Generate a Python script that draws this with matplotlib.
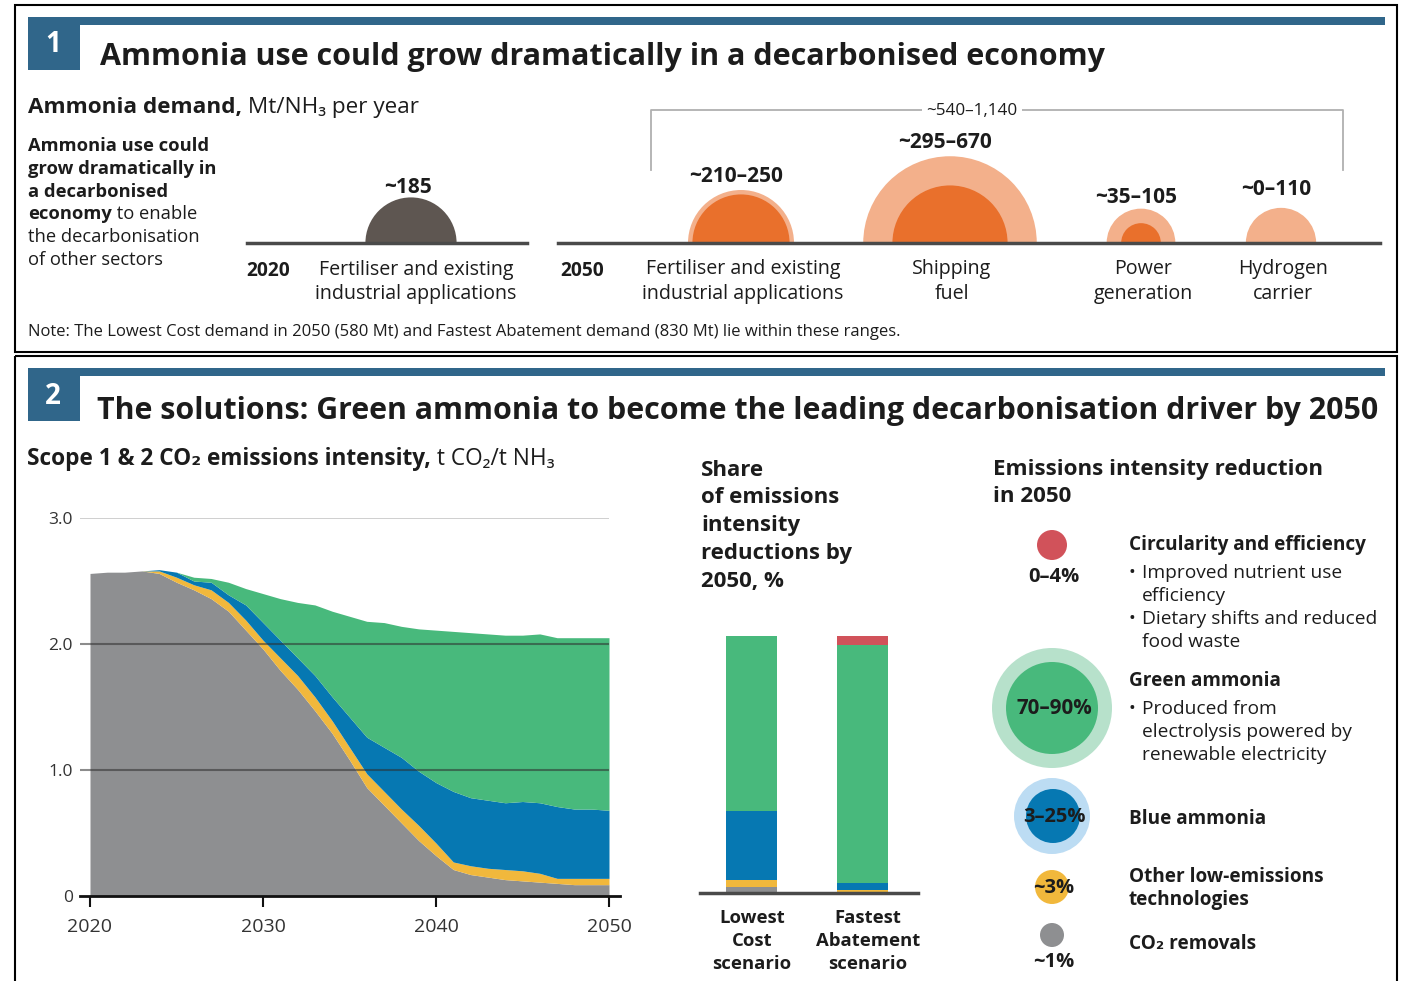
import matplotlib
matplotlib.use('Agg')
import matplotlib.pyplot as plt
from matplotlib.patches import Rectangle, Wedge, Circle
import numpy as np

plt.rcParams['font.family'] = ['Open Sans', 'DejaVu Sans']

# ---- panel 1: ammonia demand, Mt NH3 per year ----
demand_2020 = 185
label_2020 = '~185'
uses_2050 = ['Fertiliser and existing\nindustrial applications', 'Shipping\nfuel',
             'Power\ngeneration', 'Hydrogen\ncarrier']
low_2050 = [210, 295, 35, 0]
high_2050 = [250, 670, 105, 110]
labels_2050 = ['~210–250', '~295–670', '~35–105', '~0–110']
total_2050 = '~540–1,140'

# ---- panel 2: scope 1 & 2 emissions intensity, t CO2 / t NH3 ----
years = list(range(2020, 2051))
gray_top = [2.56, 2.57, 2.57, 2.58, 2.56, 2.49, 2.43, 2.36, 2.26, 2.11, 1.96, 1.79, 1.64, 1.47, 1.29, 1.08,
            0.86, 0.72, 0.58, 0.44, 0.32, 0.21, 0.17, 0.15, 0.13, 0.12, 0.11, 0.10, 0.09, 0.09, 0.09]
yellow_top = [2.56, 2.57, 2.57, 2.58, 2.58, 2.53, 2.47, 2.43, 2.33, 2.19, 2.03, 1.89, 1.75, 1.58, 1.39, 1.18,
              0.97, 0.83, 0.69, 0.56, 0.42, 0.27, 0.24, 0.22, 0.21, 0.20, 0.18, 0.14, 0.14, 0.14, 0.14]
blue_top = [2.56, 2.57, 2.57, 2.58, 2.59, 2.57, 2.50, 2.49, 2.39, 2.31, 2.17, 2.03, 1.89, 1.75, 1.58, 1.42,
            1.26, 1.18, 1.10, 0.99, 0.90, 0.83, 0.78, 0.76, 0.74, 0.75, 0.74, 0.71, 0.69, 0.69, 0.68]
green_top = [2.56, 2.57, 2.57, 2.58, 2.59, 2.57, 2.53, 2.52, 2.49, 2.44, 2.40, 2.36, 2.33, 2.31, 2.26, 2.22,
             2.18, 2.17, 2.14, 2.12, 2.11, 2.10, 2.09, 2.08, 2.07, 2.07, 2.08, 2.05, 2.05, 2.05, 2.05]

scenarios = ['Lowest\nCost\nscenario', 'Fastest\nAbatement\nscenario']
share_removals = [2.5, 0.0]
share_other = [2.5, 1.0]
share_blue = [27.0, 3.0]
share_green = [68.0, 92.5]
share_circular = [0.0, 3.5]

levers = ['Circularity and efficiency', 'Green ammonia', 'Blue ammonia',
          'Other low-emissions\ntechnologies', 'CO₂ removals']
lever_ranges = ['0–4%', '70–90%', '3–25%', '~3%', '~1%']
lever_notes = [[('Improved nutrient use', True), ('efficiency', False),
                ('Dietary shifts and reduced', True), ('food waste', False)],
               [('Produced from', True), ('electrolysis powered by', False), ('renewable electricity', False)],
               [], [], []]

# colours
DARK = '#1c1c1c'
HEAD = '#30668a'
GRAY = '#8e8f91'
YELLOW = '#f1b83c'
BLUE = '#0678b2'
GREEN = '#48b97c'
RED = '#d1525a'
ORANGE = '#e9702c'
PEACH = '#f3b08b'

fig = plt.figure(figsize=(14.04, 9.81), dpi=100)
cv = fig.add_axes([0, 0, 1, 1])
cv.set_xlim(0, 1404)
cv.set_ylim(981, 0)
cv.axis('off')
renderer = fig.canvas.get_renderer()


def txt(x, y, s, size=13, weight='normal', ha='left', va='center', color=DARK, **kw):
    # small downward nudge: 'center' counts descenders
    return cv.text(x, y + 3, s, fontsize=size, fontweight=weight, ha=ha, va=va, color=color, **kw)


def mixed(x, y, parts, size):
    # one line of text with bold / normal pieces
    for s, w in parts:
        t = txt(x, y, s, size=size, weight=w)
        x += t.get_window_extent(renderer).width


def block(x, y, s, step, **kw):
    for j, row in enumerate(s.split('\n')):
        txt(x, y + j * step, row, **kw)


# frames and headers
for top, bottom in [(5, 352), (356, 995)]:
    cv.add_patch(Rectangle((15, top), 1382, bottom - top, fill=False, ec='black', lw=1.5))
for y0, num in [(17, '1'), (368, '2')]:
    cv.add_patch(Rectangle((28, y0), 1357, 8, color=HEAD, lw=0))
    cv.add_patch(Rectangle((28, y0 + 3), 52, 50, color=HEAD, lw=0))
    txt(53, y0 + 25, num, size=20, weight='bold', ha='center', color='white')

txt(100, 54, 'Ammonia use could grow dramatically in a decarbonised economy', size=22, weight='bold')
txt(97, 408, 'The solutions: Green ammonia to become the leading decarbonisation driver by 2050',
    size=21.9, weight='bold')

# ---- panel 1 ----
mixed(28, 105, [('Ammonia demand,', 'bold'), (' Mt/NH₃ per year', 'normal')], 16.2)
side = [('Ammonia use could', 'bold'), ('grow dramatically in', 'bold'), ('a decarbonised', 'bold'),
        ('economy', 'bold'), ('the decarbonisation', 'normal'), ('of other sectors', 'normal')]
for i, (s, w) in enumerate(side):
    if i == 3:
        mixed(28, 143 + i * 22.8, [('economy', 'bold'), (' to enable', 'normal')], 13.2)
    else:
        txt(28, 143 + i * 22.8, s, size=13.2, weight=w)

base_y = 243
k = 53 / np.sqrt(250)  # px per sqrt(Mt), area-true circles
cv.plot([247, 527], [base_y, base_y], color='#4a4a4a', lw=2.5, zorder=3)
cv.plot([558, 1380], [base_y, base_y], color='#4a4a4a', lw=2.5, zorder=3)

r = k * np.sqrt(demand_2020)
cv.add_patch(Wedge((411, base_y), r, 180, 360, color='#5e5651', lw=0))
txt(408, base_y - r - 13, label_2020, size=15, weight='bold', ha='center')
txt(268, 268, '2020', size=13.8, weight='bold', ha='center')
block(416, 267, 'Fertiliser and existing\nindustrial applications', 24, size=14.1, ha='center')

cx_2050 = [741, 950, 1141, 1281]
label_dy = [17, 17, 14, 21]
for cx, lo, hi, lab, use, dy in zip(cx_2050, low_2050, high_2050, labels_2050, uses_2050, label_dy):
    rh = k * np.sqrt(hi)
    cv.add_patch(Wedge((cx, base_y), rh, 180, 360, color=PEACH, lw=0))
    if lo > 0:
        cv.add_patch(Wedge((cx, base_y), k * np.sqrt(lo), 180, 360, color=ORANGE, lw=0))
    txt(cx - 5, base_y - rh - dy, lab, size=15, weight='bold', ha='center')
    block(cx + 2, 266, use, 25, size=14.1, ha='center')
txt(582, 268, '2050', size=13.8, weight='bold', ha='center')

cv.plot([651, 651, 1343, 1343], [170, 110, 110, 170], color='#b0b0b0', lw=1.3)
txt(972, 108, total_2050, size=12.3, ha='center',
    bbox=dict(boxstyle='square,pad=0.25', fc='white', ec='none'))

txt(28, 329, 'Note: The Lowest Cost demand in 2050 (580 Mt) and Fastest Abatement demand (830 Mt) '
    'lie within these ranges.', size=12)

# ---- panel 2: area chart ----
mixed(27, 456, [('Scope 1 & 2 CO₂ emissions intensity,', 'bold'), (' t CO₂/t NH₃', 'normal')], 16.3)

ax = fig.add_axes([80 / 1404, 1 - 896 / 981, 540 / 1404, 378 / 981])
x0, x1 = 2020 - 10 / 17.3, 2050 + 11 / 17.3
ax.set_xlim(x0, x1)
ax.set_ylim(0, 3.0)
zero = [0] * len(years)
layers = [(zero, gray_top, GRAY), (gray_top, yellow_top, YELLOW),
          (yellow_top, blue_top, BLUE), (blue_top, green_top, GREEN)]
for lo, hi, c in layers:
    ax.fill_between(years, lo, hi, color=c, lw=0, zorder=2)
ax.hlines(3.0, x0, 2050, color='#cccccc', lw=1.3, zorder=1)
ax.hlines([1.0, 2.0], x0, 2050, color='#2e2e2e', alpha=0.55, lw=1.5, zorder=3)
for s in ['top', 'right', 'left']:
    ax.spines[s].set_visible(False)
ax.spines['bottom'].set_linewidth(2)
ax.spines['bottom'].set_color('#111111')
ax.set_xticks([2020, 2030, 2040, 2050])
ax.set_yticks([0, 1, 2, 3])
ax.set_yticklabels(['0', '1.0', '2.0', '3.0'])
ax.tick_params(axis='x', length=8, width=1.5, color='#111111', labelsize=14, labelcolor='#333333', pad=8)
ax.tick_params(axis='y', length=0, labelsize=12.5, labelcolor='#333333', pad=5)
ax.set_facecolor('none')

# ---- panel 2: share bars ----
for i, s in enumerate(['Share', 'of emissions', 'intensity', 'reductions by', '2050, %']):
    txt(701, 467 + i * 27.8, s, size=16, weight='bold')

bx = fig.add_axes([700 / 1404, 1 - 893 / 981, 218 / 1404, 257 / 981])
bx.set_xlim(-0.464, 1.5)
bx.set_ylim(0, 100)
pos = np.arange(len(scenarios))
bottom = np.zeros(len(scenarios))
for vals, c in [(share_removals, GRAY), (share_other, YELLOW), (share_blue, BLUE),
                (share_green, GREEN), (share_circular, RED)]:
    bx.bar(pos, vals, bottom=bottom, width=0.46, color=c, lw=0)
    bottom += np.array(vals)
bx.axis('off')
bx.plot([-0.464, 1.5], [0, 0], color='#4a4a4a', lw=2.5, clip_on=False)
for p, s in zip([752, 868], scenarios):
    block(p, 915, s, 23, size=13.3, weight='bold', ha='center')

# ---- panel 2: legend of levers ----
txt(993, 467, 'Emissions intensity reduction', size=16.1, weight='bold')
txt(993, 494, 'in 2050', size=16.1, weight='bold')

cx = 1052
cv.add_patch(Circle((cx, 545), 15, color=RED, lw=0))
txt(cx + 2, 574, lever_ranges[0], size=14.5, weight='bold', ha='center')
cv.add_patch(Circle((cx, 708), 60, color='#b7e1cb', lw=0))
cv.add_patch(Circle((cx, 708), 46, color=GREEN, lw=0))
txt(cx + 2, 706, lever_ranges[1], size=14.8, weight='bold', ha='center')
cv.add_patch(Circle((cx, 816), 38, color='#bcdcf3', lw=0))
cv.add_patch(Circle((cx + 1, 816), 27, color=BLUE, lw=0))
txt(cx + 2, 814, lever_ranges[2], size=14.5, weight='bold', ha='center')
cv.add_patch(Circle((cx, 887), 17, color=YELLOW, lw=0))
txt(cx + 2, 885, lever_ranges[3], size=14.5, weight='bold', ha='center')
cv.add_patch(Circle((cx, 935), 12, color=GRAY, lw=0))
txt(cx + 2, 959, lever_ranges[4], size=14.5, weight='bold', ha='center')

name_y = [542, 678, 816, 874, 941]
for name, notes, y in zip(levers, lever_notes, name_y):
    block(1129, y, name, 23, size=13.7, weight='bold')
    yy = y + 28
    for row, bullet in notes:
        if bullet:
            txt(1128, yy, '•', size=13)
        txt(1142, yy, row, size=13.8)
        yy += 23

fig.savefig('out.png', dpi=100)
